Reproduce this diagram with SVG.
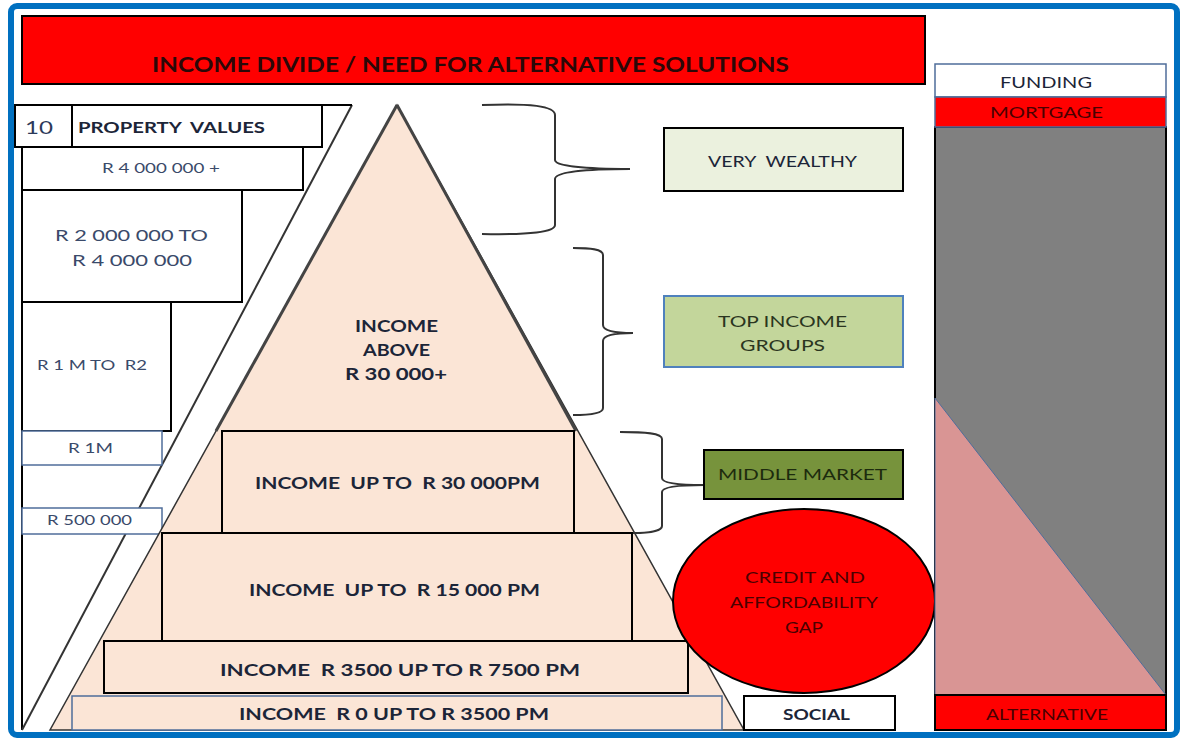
<svg xmlns="http://www.w3.org/2000/svg" width="1182" height="738" viewBox="0 0 1182 738">
<style>
text{font-family:Lato,"Liberation Sans",sans-serif;text-anchor:middle;white-space:pre}
.b{font-weight:bold}
.nv{fill:#1c2538}
.lc{fill:#3a4a6a}
.dr{fill:#4a0000}
.box{stroke:#000;stroke-width:2}
.bb{stroke:#4f6d9a;stroke-width:1.5}
.brace{fill:none;stroke:#333;stroke-width:2}
</style>
<rect x="11" y="6" width="1166" height="729" rx="6" fill="#fff" stroke="#0070c0" stroke-width="6"/>
<g id="title">
<rect x="22" y="16" width="903" height="68" fill="#ff0000" class="box"/>
<text x="470.5" y="72" font-size="20" class="b" fill="#2b0808" textLength="637" lengthAdjust="spacingAndGlyphs">INCOME DIVIDE / NEED FOR ALTERNATIVE SOLUTIONS</text>
</g>
<g id="property-frame">
<line x1="22" y1="147" x2="22" y2="730" stroke="#000" stroke-width="2"/>
<line x1="22" y1="730" x2="352" y2="105" stroke="#333" stroke-width="2"/>
<line x1="322" y1="105" x2="352" y2="105" stroke="#000" stroke-width="2"/>
</g>
<g id="property-header">
<rect x="15" y="105" width="57" height="42" fill="#fff" class="box"/>
<text x="39" y="134" font-size="18" fill="#2c3a5a" textLength="28" lengthAdjust="spacingAndGlyphs">10</text>
<rect x="72" y="105" width="250" height="42" fill="#fff" class="box"/>
<text x="171.5" y="133" font-size="15" class="b nv" textLength="187" lengthAdjust="spacingAndGlyphs">PROPERTY  VALUES</text>
</g>
<g id="pv-4m">
<rect x="22" y="147" width="281" height="43" fill="#fff" class="box"/>
<text x="161" y="173" font-size="13" class="lc" textLength="118" lengthAdjust="spacingAndGlyphs">R 4 000 000 +</text>
</g>
<g id="pv-2m-4m">
<rect x="22" y="190" width="220" height="112" fill="#fff" class="box"/>
<text x="131.5" y="241" font-size="15" class="lc" textLength="153" lengthAdjust="spacingAndGlyphs">R 2 000 000 TO</text>
<text x="132" y="266" font-size="15" class="lc" textLength="120" lengthAdjust="spacingAndGlyphs">R 4 000 000</text>
</g>
<g id="pv-1m-2m">
<rect x="22" y="302" width="149" height="129" fill="#fff" class="box"/>
<text x="92" y="370" font-size="13" class="lc" textLength="110" lengthAdjust="spacingAndGlyphs">R 1 M TO  R2</text>
</g>
<g id="pv-1m">
<rect x="22" y="431" width="140" height="34" fill="#fff" class="bb"/>
<text x="90.5" y="453" font-size="13" class="lc" textLength="45" lengthAdjust="spacingAndGlyphs">R 1M</text>
</g>
<g id="pv-500k">
<rect x="22" y="508" width="140" height="26" fill="#fff" class="bb"/>
<text x="89.5" y="525" font-size="13" class="lc" textLength="85" lengthAdjust="spacingAndGlyphs">R 500 000</text>
</g>
<g id="pyramid">
<polygon points="397,105 50,730 744,730" fill="#fbe5d6" stroke="#333" stroke-width="1.5"/>
<line x1="397" y1="105" x2="216" y2="431" stroke="#444" stroke-width="3"/>
<line x1="397" y1="105" x2="576" y2="431" stroke="#444" stroke-width="3"/>
<text x="396.5" y="332" font-size="17" class="b nv" textLength="83" lengthAdjust="spacingAndGlyphs">INCOME</text>
<text x="396.5" y="356" font-size="17" class="b nv" textLength="67" lengthAdjust="spacingAndGlyphs">ABOVE</text>
<text x="396" y="380" font-size="17" class="b nv" textLength="102" lengthAdjust="spacingAndGlyphs">R 30 000+</text>
</g>
<g id="income-30k">
<rect x="222" y="431" width="352" height="102" fill="#fbe5d6" class="box"/>
<text x="397.5" y="489" font-size="17" class="b nv" textLength="285" lengthAdjust="spacingAndGlyphs">INCOME  UP TO  R 30 000PM</text>
</g>
<g id="income-15k">
<rect x="162" y="533" width="470" height="108" fill="#fbe5d6" class="box"/>
<text x="394.5" y="596" font-size="17" class="b nv" textLength="291" lengthAdjust="spacingAndGlyphs">INCOME  UP TO  R 15 000 PM</text>
</g>
<g id="income-7500">
<rect x="104" y="641" width="584" height="52" fill="#fbe5d6" class="box"/>
<text x="400" y="676" font-size="17" class="b nv" textLength="360" lengthAdjust="spacingAndGlyphs">INCOME  R 3500 UP TO R 7500 PM</text>
</g>
<g id="income-3500">
<rect x="72" y="696" width="650" height="34" fill="#fbe5d6" class="bb"/>
<text x="394" y="720" font-size="17" class="b nv" textLength="310" lengthAdjust="spacingAndGlyphs">INCOME  R 0 UP TO R 3500 PM</text>
</g>
<g id="connectors">
<path class="brace" d="M482,105 C530,103 555,106 555,115 L555,160 C555,166 585,169 630,169 C585,169 555,172 555,179 L555,225 C555,232 530,235 482,234"/>
<path class="brace" d="M573,248 C590,248 603,249 603,255 L603,325 C603,330 613,333 633,333 C613,333 603,336 603,341 L603,408 C603,413 590,415 573,415"/>
<path class="brace" d="M620,432 C645,432 662,433 662,439 L662,478 C662,483 680,485 704,485 C680,485 662,487 662,492 L662,526 C662,531 648,533 633,533"/>
</g>
<g id="very-wealthy">
<rect x="664" y="128" width="239" height="63" fill="#ebf1de" class="box"/>
<text x="782.5" y="167" font-size="16" class="nv" textLength="149" lengthAdjust="spacingAndGlyphs">VERY  WEALTHY</text>
</g>
<g id="top-income">
<rect x="664" y="296" width="239" height="71" fill="#c3d69b" stroke="#4f81bd" stroke-width="2"/>
<text x="782.5" y="327" font-size="16" fill="#2a3520" textLength="129" lengthAdjust="spacingAndGlyphs">TOP INCOME</text>
<text x="782.5" y="351" font-size="16" fill="#2a3520" textLength="85" lengthAdjust="spacingAndGlyphs">GROUPS</text>
</g>
<g id="middle-market">
<rect x="704" y="450" width="199" height="49" fill="#77933c" class="box"/>
<text x="802.5" y="480" font-size="16" fill="#1d2b0e" textLength="169" lengthAdjust="spacingAndGlyphs">MIDDLE MARKET</text>
</g>
<g id="credit-gap">
<ellipse cx="804" cy="601" rx="131" ry="92" fill="#ff0000" stroke="#000" stroke-width="2"/>
<text x="805" y="583" font-size="16" class="dr" textLength="120" lengthAdjust="spacingAndGlyphs">CREDIT AND</text>
<text x="804" y="608" font-size="16" class="dr" textLength="148" lengthAdjust="spacingAndGlyphs">AFFORDABILITY</text>
<text x="804" y="633" font-size="16" class="dr" textLength="38" lengthAdjust="spacingAndGlyphs">GAP</text>
</g>
<g id="social">
<rect x="744" y="696" width="151" height="34" fill="#fff" class="box"/>
<text x="816.5" y="720" font-size="16" class="b nv" textLength="67" lengthAdjust="spacingAndGlyphs">SOCIAL</text>
</g>
<g id="funding">
<rect x="935" y="64" width="231" height="33" fill="#fff" class="bb"/>
<text x="1046" y="88" font-size="16" class="nv" textLength="92" lengthAdjust="spacingAndGlyphs">FUNDING</text>
</g>
<g id="funding-chart">
<rect x="935" y="127" width="231" height="568" fill="#808080" stroke="#000" stroke-width="2"/>
<polygon points="935,398 935,695 1166,695" fill="#d99594" stroke="#4f6d9a" stroke-width="1"/>
</g>
<g id="mortgage">
<rect x="935" y="97" width="231" height="30" fill="#ff0000" class="bb"/>
<text x="1046.5" y="118" font-size="16" class="dr" textLength="113" lengthAdjust="spacingAndGlyphs">MORTGAGE</text>
</g>
<g id="alternative">
<rect x="935" y="695" width="231" height="35" fill="#ff0000" stroke="#000" stroke-width="2"/>
<text x="1047" y="720" font-size="16" class="dr" textLength="122" lengthAdjust="spacingAndGlyphs">ALTERNATIVE</text>
</g>
</svg>
